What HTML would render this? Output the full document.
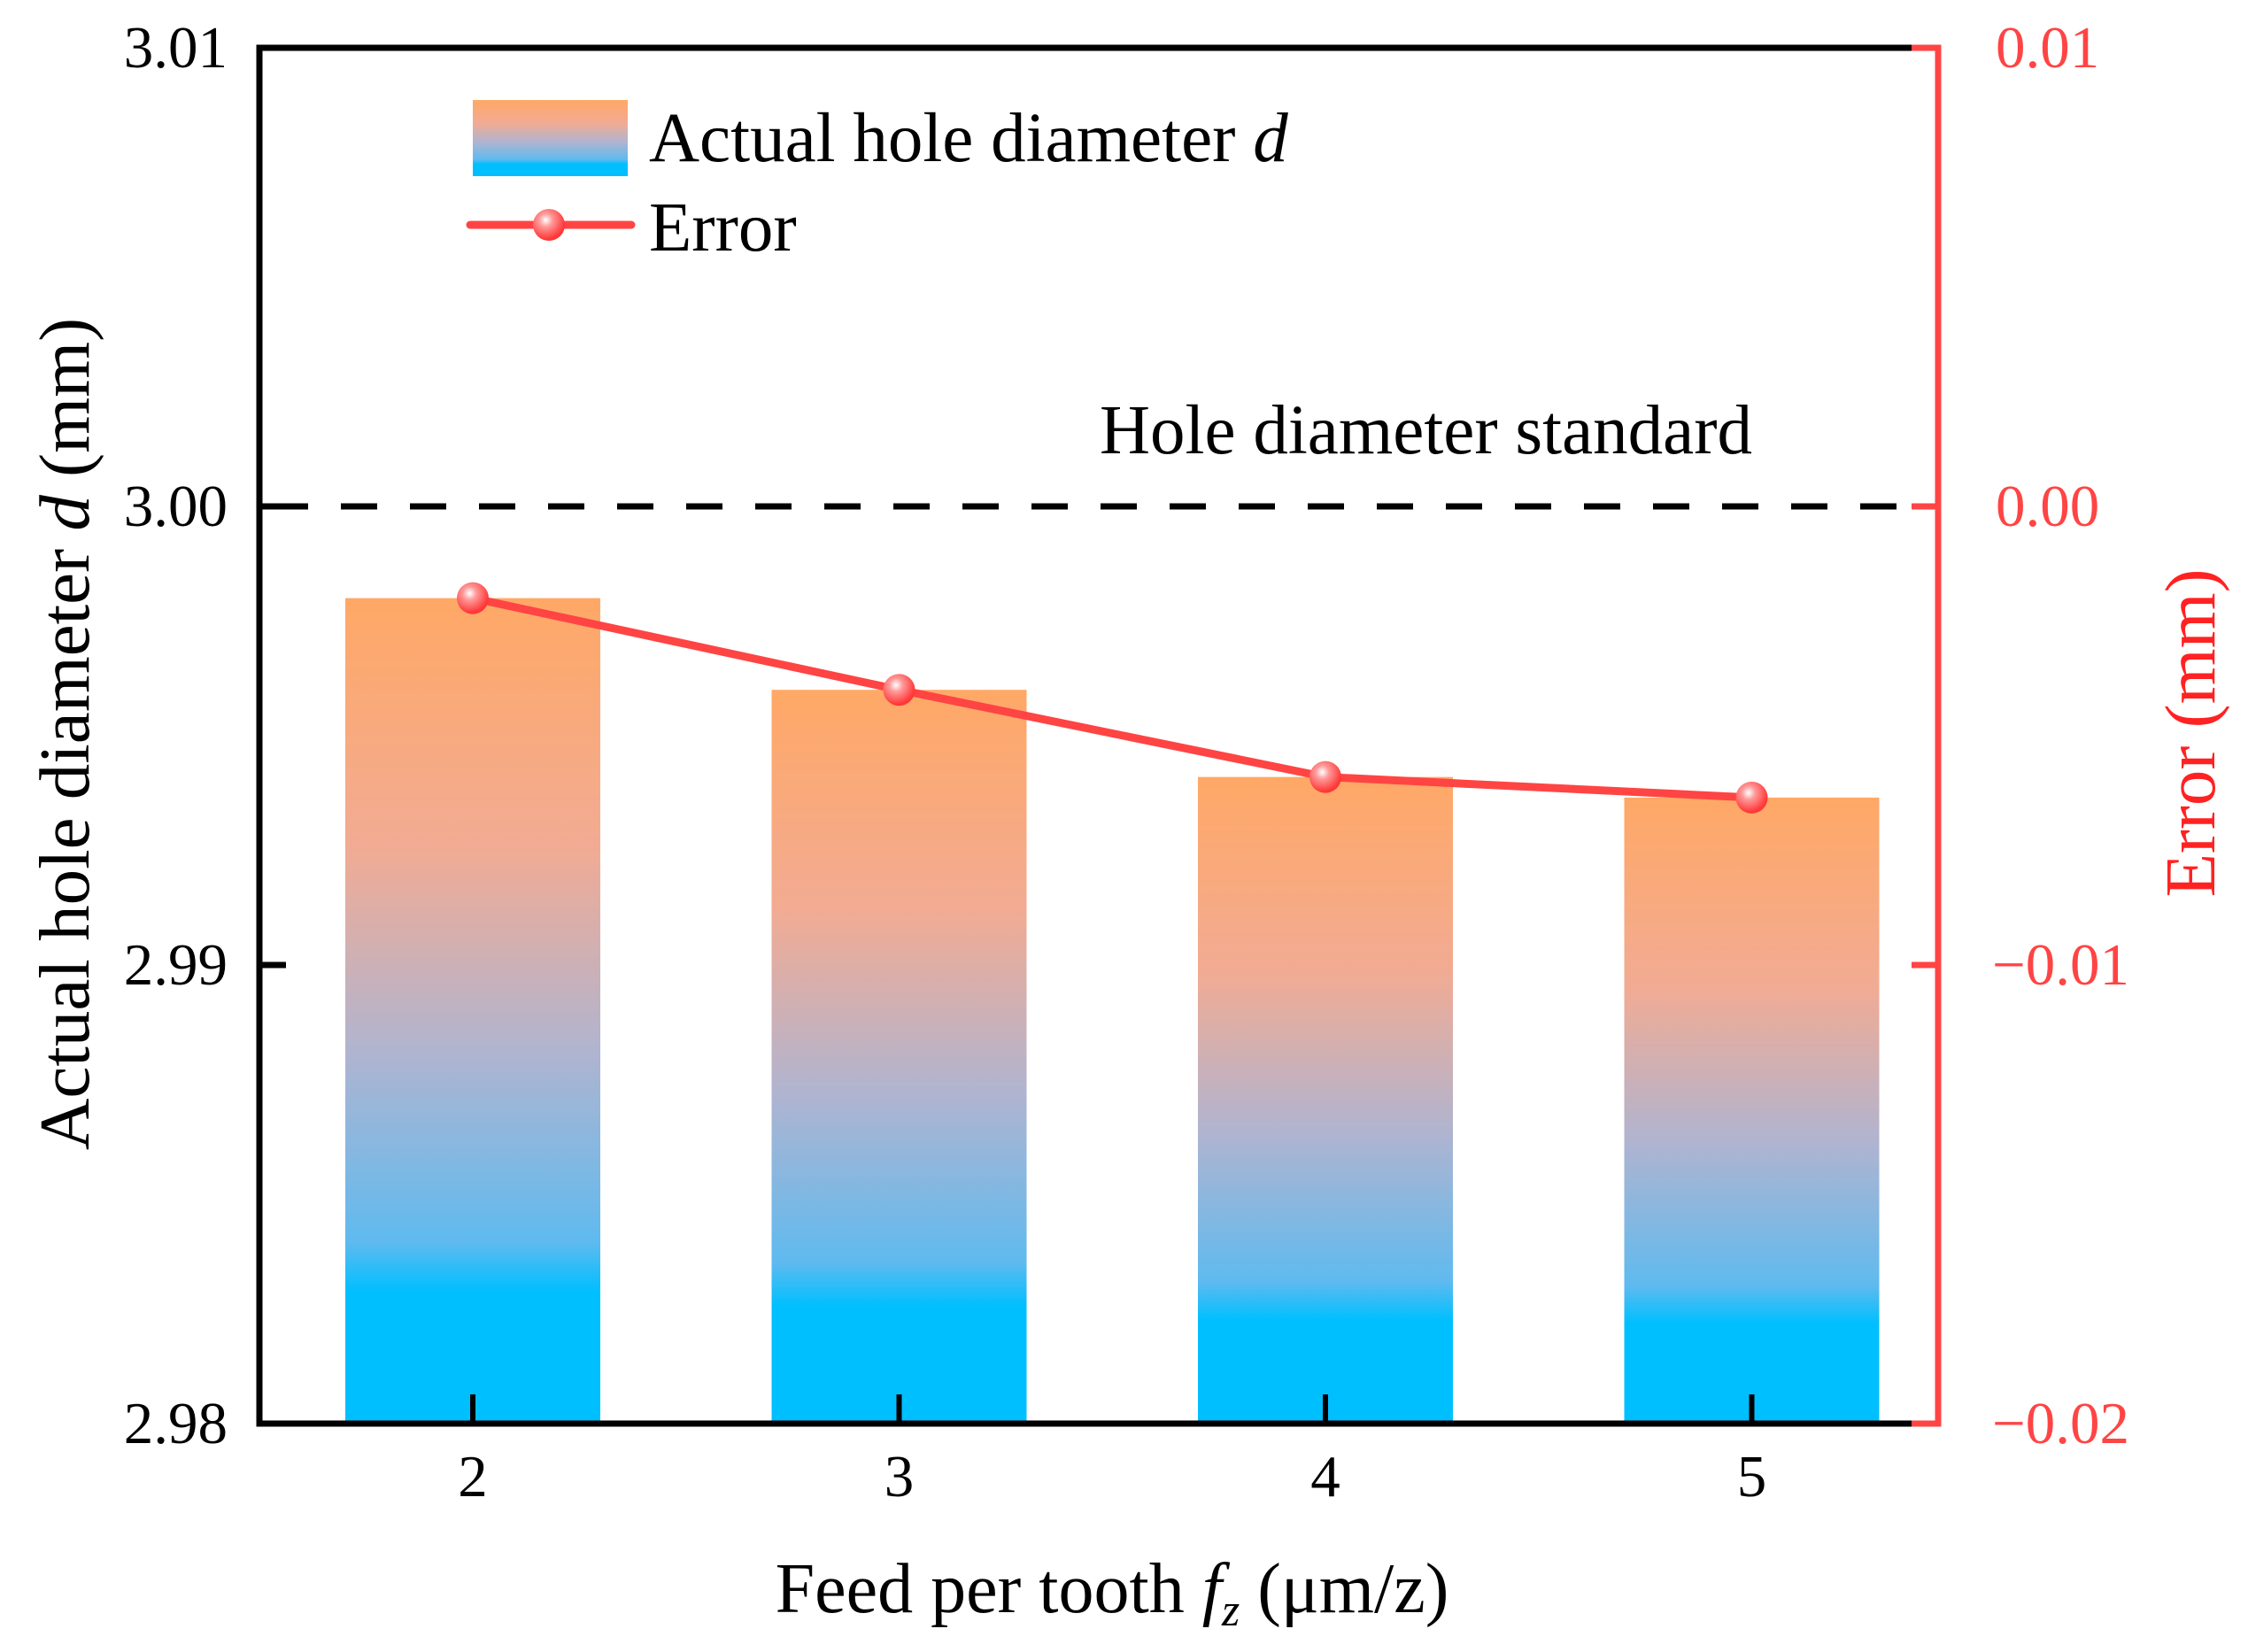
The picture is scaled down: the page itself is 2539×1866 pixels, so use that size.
<!DOCTYPE html>
<html><head><meta charset="utf-8"><style>html,body{margin:0;padding:0;background:#fff}svg{display:block}text{font-family:"Liberation Serif",serif}</style></head>
<body>
<svg id="chart" width="2539" height="1866" viewBox="0 0 2539 1866">
<defs>
<linearGradient id="barGrad" x1="0" y1="0" x2="0" y2="1">
<stop offset="0" stop-color="#ffa866"/><stop offset="0.3" stop-color="#f2ab93"/><stop offset="0.55" stop-color="#b0b4d0"/><stop offset="0.78" stop-color="#5fbaef"/><stop offset="0.84" stop-color="#00bfff"/><stop offset="1" stop-color="#00bfff"/>
</linearGradient>
<radialGradient id="mk" cx="0.4" cy="0.35" r="0.6"><stop offset="0" stop-color="#fff"/><stop offset="0.35" stop-color="#ff9a9a"/><stop offset="1" stop-color="#ff3838"/></radialGradient>
</defs>
<g id="bars"></g><g id="line"></g><g id="axes"></g>
<rect x="534" y="113" width="175" height="86" fill="url(#barGrad)"/>
<text x="733" y="182" font-size="79">Actual hole diameter <tspan font-style="italic">d</tspan></text>
<line x1="531" y1="254" x2="713" y2="254" stroke="#ff4444" stroke-width="9" stroke-linecap="round"/>
<circle cx="620" cy="254" r="18" fill="url(#mk)"/>
<text x="733" y="283" font-size="79">Error</text>
<text x="1242" y="512" font-size="79">Hole diameter standard</text>
<text x="1256" y="1821" font-size="80" text-anchor="middle">Feed per tooth <tspan font-style="italic">f</tspan><tspan font-style="italic" font-size="52" dy="15">z</tspan><tspan dy="-15"> (μm/z)</tspan></text>
<text transform="translate(100,829) rotate(-90)" font-size="81" text-anchor="middle">Actual hole diameter <tspan font-style="italic">d</tspan> (mm)</text>
<text transform="translate(2501,828) rotate(-90)" font-size="81" text-anchor="middle" fill="#ff2222">Error (mm)</text>
</svg>
<script>
const categories = [2, 3, 4, 5];
const diameters = [2.998, 2.996, 2.9941, 2.99365];
const errors = [-0.002, -0.004, -0.0059, -0.00635];
const yTicks = ["2.98", "2.99", "3.00", "3.01"];
const y2Ticks = ["\u22120.02", "\u22120.01", "0.00", "0.01"];
const y2TickVals = [-0.02, -0.01, 0, 0.01];

const NS = "http://www.w3.org/2000/svg";
const L = 293, R = 2189, T = 54, B = 1608;
const xScale = i => 534 + i * 481.5;
const yScale = v => B - (v - 2.98) / 0.03 * (B - T);
const y2Scale = v => B - (v + 0.02) / 0.03 * (B - T);
function mk(tag, attrs, parent) { const e = document.createElementNS(NS, tag); for (const k in attrs) e.setAttribute(k, attrs[k]); parent.appendChild(e); return e; }
const bars = document.getElementById('bars'), line = document.getElementById('line'), axes = document.getElementById('axes');
const bw = 288;
diameters.forEach((v, i) => {
  const y = yScale(v);
  const r = mk('rect', {x: xScale(i) - bw / 2, y: y, width: bw, height: B - y, fill: 'url(#barGrad)'}, bars);
  
  
});
const dl = mk('line', {x1: L, y1: yScale(3.0), x2: R - 30, y2: yScale(3.0), stroke: '#000', 'stroke-width': 7, 'stroke-dasharray': '41 37', 'stroke-dashoffset': '-14'}, axes);


const pts = errors.map((v, i) => xScale(i) + ',' + y2Scale(v)).join(' ');
const pl = mk('polyline', {points: pts, fill: 'none', stroke: '#ff4444', 'stroke-width': 9, 'stroke-linejoin': 'round'}, line);


errors.forEach((v, i) => {
  const c = mk('circle', {cx: xScale(i), cy: y2Scale(v), r: 18, fill: 'url(#mk)'}, line);
  
  
});
const f1 = mk('polyline', {points: `${R - 30},${T} ${L},${T} ${L},${B} ${R - 30},${B}`, fill: 'none', stroke: '#000', 'stroke-width': 7}, axes);


const f2 = mk('polyline', {points: `${R - 30},${T} ${R},${T} ${R},${B} ${R - 30},${B}`, fill: 'none', stroke: '#ff4444', 'stroke-width': 7}, axes);


yTicks.forEach((t, i) => {
  const y = yScale(parseFloat(t));
  const tk = mk('line', {x1: L, y1: y, x2: L + 30, y2: y, stroke: '#000', 'stroke-width': 7}, axes);
  
  
  const tx = mk('text', {x: 257, y: y + 22, 'font-size': 67, 'text-anchor': 'end'}, axes);
  tx.textContent = t;
  
  
});
y2TickVals.forEach((v, i) => {
  const y = y2Scale(v);
  const tk = mk('line', {x1: R - 30, y1: y, x2: R, y2: y, stroke: '#ff4444', 'stroke-width': 7}, axes);
  
  
  const tx = mk('text', {x: v < 0 ? 2250 : 2254, y: y + 22, 'font-size': 67, fill: '#ff4444'}, axes);
  tx.textContent = y2Ticks[i];
  
  
});
categories.forEach((c, i) => {
  const x = xScale(i);
  const tk = mk('line', {x1: x, y1: B, x2: x, y2: B - 33, stroke: '#000', 'stroke-width': 6}, axes);
  
  
  const tx = mk('text', {x: x, y: 1690, 'font-size': 67, 'text-anchor': 'middle'}, axes);
  tx.textContent = c;
  
  
});
</script>
</body></html>
